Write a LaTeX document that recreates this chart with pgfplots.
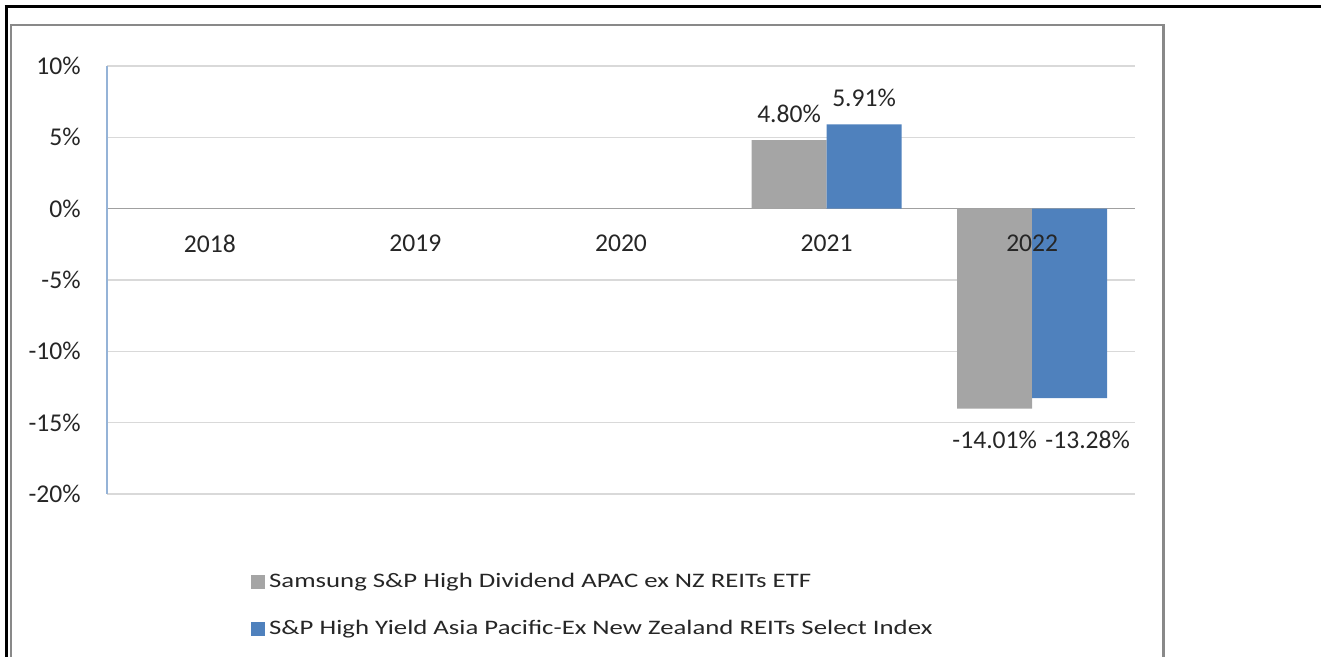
\documentclass[border=0pt]{standalone}
\usepackage{fontspec}
\setmainfont{Carlito}
\newfontfamily\legendfont[FakeStretch=1.3]{Carlito}
\usepackage{pgfplots}
\pgfplotsset{compat=1.18}

\definecolor{etfgray}{HTML}{A5A5A5}
\definecolor{idxblue}{HTML}{4F81BD}
\definecolor{gridgray}{HTML}{D9D9D9}
\definecolor{framegray}{HTML}{898989}
\definecolor{axisblue}{HTML}{95B3D7}
\definecolor{zerogray}{HTML}{A0A0A0}

\pgfplotsset{
    chartbox/.style={
        at={(53.5pt,81.5pt)}, anchor=south west,
        scale only axis, width=514pt, height=214pt,
        xmin=-0.5, xmax=4.5, ymin=-20, ymax=10,
        major tick length=0pt,
        /pgf/number format/assume math mode=true,
        tick label style={font=\fontsize{12.8}{15}\selectfont, text=black!85},
    },
}

\begin{document}
\begin{tikzpicture}
\path[use as bounding box] (0,0) rectangle (660.5pt,328.5pt);
% outer frames
\draw[black, line width=1.5pt] (2.25pt,325pt) -- (660.5pt,325pt);
\draw[black, line width=1.5pt] (3pt,325.75pt) -- (3pt,0pt);
\draw[framegray, line width=1.2pt] (5.5pt,0pt) -- (5.5pt,316pt) -- (581.75pt,316pt) -- (581.75pt,0pt);

\begin{axis}[
    chartbox,
    ybar=0pt, bar width=37.5pt,
    axis x line=middle, axis y line=left,
    x axis line style={zerogray, line width=0.8pt, -},
    y axis line style={axisblue, line width=0.8pt, -},
    xtick=\empty,
    ytick={-20,-15,...,10},
    yticklabel={\pgfmathprintnumber{\tick}\%},
    ymajorgrids, grid style={gridgray, line width=0.8pt},
    yticklabel style={anchor=east, inner sep=0pt, xshift=-13pt},
    visualization depends on=rawy \as \ry,
    nodes near coords={\pgfmathprintnumber[fixed, fixed zerofill, precision=2]{\pgfplotspointmeta}\%},
    every node near coord/.append style={font=\fontsize{12.8}{15}\selectfont, text=black!85, inner sep=0pt,
        yshift={ifthenelse(\ry<0,(-15.56-\ry)*7.133,8.5)}},
    legend style={at={(0.134,-0.165)}, anchor=north west, draw=none, fill=none,
        font=\legendfont\fontsize{10.3}{12}\selectfont, text=black!85, row sep=11pt},
    legend cell align=left,
    legend image code/.code={\fill[#1] (0pt,-3.5pt) rectangle (7pt,3.5pt);},
]
\addplot[fill=etfgray, draw=none] coordinates {(3,4.80) (4,-14.01)};
\addplot[fill=idxblue, draw=none,
    every node near coord/.append style={xshift={ifthenelse(\ry<0,9,0)}}]
    coordinates {(3,5.91) (4,-13.28)};
\legend{Samsung S\&P High Dividend APAC ex NZ REITs ETF,
        S\&P High Yield Asia Pacific-Ex New Zealand REITs Select Index}
\end{axis}

% category labels drawn over the bars
\begin{axis}[
    chartbox,
    axis x line=middle, axis y line=none,
    x axis line style={draw=none},
    xtick={0,...,4}, xticklabels={2018,2019,2020,2021,2022},
    ytick=\empty,
    xticklabel style={anchor=center, inner sep=0pt, yshift=-17.5pt},
]
\end{axis}
\end{tikzpicture}
\end{document}
